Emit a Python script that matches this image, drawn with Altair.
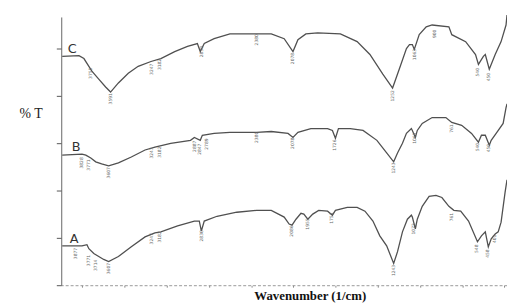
import altair as alt
import pandas as pd

# ---- spectra (wavenumber in 1/cm, transmittance in %T, offset per sample) ----
wn_C = [3992, 3853, 3812, 3771, 3746, 3689, 3632, 3591, 3526, 3444, 3362, 3256, 3174, 3059,
        2953, 2871, 2847, 2814, 2732, 2601, 2380, 2258, 2151, 2078, 2037, 1971, 1873, 1685,
        1546, 1440, 1333, 1252, 1194, 1137, 1112, 1088, 1072, 1031, 973, 924, 785, 761, 646,
        564, 540, 499, 483, 450, 401, 352, 311, 303]
t_C = [85.3, 85.6, 84.5, 81.6, 79.8, 76.8, 73.9, 72.0, 75.4, 79.0, 81.6, 83.4, 84.5, 87.1,
       89.0, 90.1, 87.1, 90.1, 91.9, 93.7, 93.7, 93.7, 91.9, 87.1, 91.5, 93.7, 94.1, 93.7,
       90.8, 86.0, 78.7, 73.5, 80.9, 88.2, 89.7, 89.7, 87.9, 93.4, 96.3, 97.0, 96.3, 93.4, 90.8,
       86.0, 82.3, 85.3, 86.0, 80.5, 86.0, 90.8, 97.0, 100.7]

wn_B = [3992, 3828, 3796, 3755, 3714, 3665, 3607, 3526, 3419, 3305, 3223, 3092, 2928, 2896,
        2847, 2830, 2732, 2601, 2380, 2258, 2119, 2078, 2037, 1930, 1791, 1751, 1726, 1701,
        1603, 1497, 1382, 1301, 1243, 1211, 1170, 1137, 1096, 1088, 1063, 1047, 1006, 924,
        810, 761, 679, 597, 540, 515, 483, 450, 434, 393, 335, 311, 303]
t_B = [48.5, 48.9, 48.5, 47.4, 46.0, 45.2, 44.5, 45.6, 47.8, 50.4, 51.5, 52.9, 54.0, 55.1,
       54.0, 55.9, 56.6, 57.0, 57.0, 57.3, 56.6, 55.1, 57.0, 58.4, 58.4, 57.7, 54.8, 58.4,
       58.4, 57.7, 54.0, 49.3, 46.0, 49.3, 52.9, 56.6, 58.4, 57.7, 55.1, 57.7, 60.3, 62.5,
       62.5, 60.7, 59.6, 56.6, 53.3, 55.9, 55.9, 52.2, 54.0, 56.6, 60.3, 66.2, 67.6]

wn_A = [3992, 3828, 3787, 3771, 3730, 3689, 3648, 3607, 3526, 3419, 3305, 3223, 3174, 3035,
        2896, 2855, 2838, 2814, 2708, 2544, 2380, 2258, 2151, 2110, 2086, 2053, 2012, 1988,
        1955, 1914, 1865, 1791, 1751, 1726, 1628, 1546, 1481, 1415, 1358, 1301, 1243, 1211,
        1170, 1129, 1096, 1088, 1063, 1047, 1006, 949, 892, 843, 785, 744, 687, 622, 548, 515,
        483, 458, 434, 401, 376, 352, 319, 303]
t_A = [14.7, 14.7, 15.1, 13.6, 11.8, 10.7, 9.6, 8.8, 10.7, 14.3, 18.0, 19.5, 19.9, 22.1,
       23.9, 23.9, 20.2, 23.9, 25.7, 27.2, 27.9, 27.9, 25.4, 22.8, 22.4, 24.6, 26.8, 26.5,
       24.6, 26.5, 27.9, 27.6, 26.1, 27.9, 29.0, 29.0, 27.6, 23.9, 18.4, 14.7, 8.1, 12.5,
       19.9, 24.6, 26.1, 25.4, 21.0, 24.6, 29.4, 33.1, 33.5, 32.7, 29.4, 27.9, 27.6, 23.9,
       16.2, 18.4, 19.9, 14.3, 17.3, 19.1, 19.9, 23.5, 34.6, 39.3]

# ---- peak annotations (wavenumber, label height) ----
pk_C_wn = [3755, 3591, 3247, 3182, 2830, 2380, 2078, 1252, 1063, 900, 540, 450]
pk_C_t = [79.0, 69.5, 80.5, 82.3, 87.1, 91.5, 84.5, 70.6, 86.0, 93.7, 79.4, 77.6]
pk_B_wn = [3828, 3771, 3607, 3247, 3182, 2887, 2847, 2789, 2380, 2078, 1726, 1243, 1063, 761, 540, 450]
pk_B_t = [45.6, 44.8, 41.9, 49.3, 49.6, 51.8, 50.7, 52.6, 55.1, 52.9, 52.2, 43.7, 54.8, 58.4, 51.5, 51.1]
pk_A_wn = [3877, 3771, 3714, 3607, 3247, 3182, 2830, 2086, 1955, 1751, 1243, 1072, 761, 548, 458, 401]
pk_A_t = [11.8, 9.2, 7.4, 6.2, 17.3, 18.0, 18.4, 20.2, 22.8, 25.0, 5.5, 21.0, 25.4, 13.6, 11.8, 17.3]

# ---- sample letters ----
letters = ["C", "B", "A"]
letter_wn = [3910, 3877, 3894]
letter_t = [88.2, 51.5, 17.3]

major_ticks = [4000, 3650, 3300, 2950, 2600, 2250, 1900, 1550, 1200, 850, 500]

rows = []
for name, xs, ys in [("C", wn_C, t_C), ("B", wn_B, t_B), ("A", wn_A, t_A)]:
    for i, (a, b) in enumerate(zip(xs, ys)):
        rows.append({"series": name, "wn": a, "T": b, "idx": i})
lines_df = pd.DataFrame(rows)

prow = []
for xs, ys in [(pk_C_wn, pk_C_t), (pk_B_wn, pk_B_t), (pk_A_wn, pk_A_t)]:
    for a, b in zip(xs, ys):
        prow.append({"wn": a, "T": b, "lab": str(a)})
peaks_df = pd.DataFrame(prow)

letters_df = pd.DataFrame({"wn": letter_wn, "T": letter_t, "lab": letters})

minor = [4000 - 87.5 * k for k in range(43)]
# y minor ticks on whole-pixel steps (6 px each on a 272 px axis of 0-100)
y_ticks = [k * 600 / 272 for k in range(46)]

xscale = alt.Scale(domain=[303, 4000], reverse=True, nice=False, zero=False)
yscale = alt.Scale(domain=[0, 100], nice=False, zero=False)

xaxis = alt.Axis(
    title="Wavenumber (1/cm)", values=minor,
    labelExpr="((4000 - datum.value) % 350 == 0) ? format(datum.value, '.1f') : ''",
    labelFontSize=4, labelColor="#777", labelOverlap=False, labelFlush=False, labelPadding=1,
    tickSize=2, tickColor="#888", domainColor="#999", domainDash=[3, 2],
    titleFont="Liberation Serif", titleFontWeight="bold", titleFontSize=13, titleColor="#111",
    titleX=252, titleY=14, titleAlign="center", titleBaseline="alphabetic",
)
yaxis = alt.Axis(
    title="% T", values=y_ticks, labels=False,
    tickSize=5, tickColor="#555", tickWidth=1, domainColor="#666",
    titleFont="Liberation Serif", titleFontWeight="normal", titleFontSize=14, titleColor="#222",
    titleAngle=0, titleX=-31, titleY=98, titleAlign="center", titleBaseline="middle",
)

lines = alt.Chart(lines_df).mark_line(color="#505050", strokeWidth=1.3).encode(
    x=alt.X("wn:Q", scale=xscale, axis=xaxis),
    y=alt.Y("T:Q", scale=yscale, axis=yaxis),
    detail="series:N",
    order="idx:Q",
)

peaks = alt.Chart(peaks_df).mark_text(angle=270, fontSize=4.5, color="#666666",
                                      font="DejaVu Sans").encode(
    x=alt.X("wn:Q", scale=xscale), y=alt.Y("T:Q", scale=yscale), text="lab:N"
)

lets = alt.Chart(letters_df).mark_text(fontSize=13, color="#333333", font="DejaVu Sans").encode(
    x=alt.X("wn:Q", scale=xscale), y=alt.Y("T:Q", scale=yscale), text="lab:N"
)

chart = alt.layer(lines, peaks, lets).properties(
    width=452, height=272,
    autosize=alt.AutoSizeParams(type="none"),
    padding={"left": 54, "top": 7, "right": 0, "bottom": 19},
).configure_view(stroke=None).configure_axis(grid=False)

chart.save("out.html", embed_options={"renderer": "svg", "actions": False})
